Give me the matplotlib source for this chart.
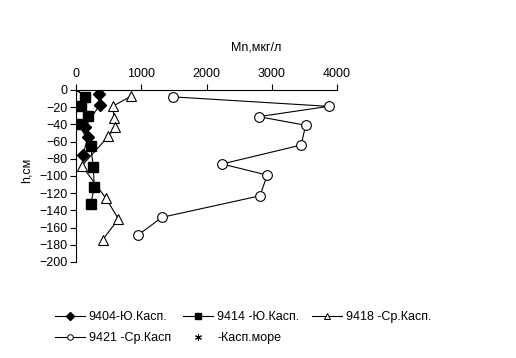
import matplotlib
matplotlib.use("Agg")
import matplotlib.pyplot as plt
from matplotlib.lines import Line2D

plt.rcParams["font.family"] = ["Liberation Sans", "DejaVu Sans"]
plt.rcParams["font.size"] = 9

# depth (cm) and Mn (mkg/l) for each station
h_9404 = [-5, -17, -43, -55, -75]
mn_9404 = [350, 365, 140, 180, 110]

h_9414 = [-8, -19, -30, -40, -65, -89, -113, -133]
mn_9414 = [140, 80, 190, 45, 225, 265, 280, 225]

h_9418 = [-7, -19, -32, -43, -54, -88, -126, -150, -174]
mn_9418 = [850, 560, 585, 600, 495, 90, 460, 650, 410]

h_9421 = [-8, -19, -31, -41, -64, -86, -99, -123, -148, -169]
mn_9421 = [1490, 3870, 2800, 3520, 3450, 2240, 2930, 2820, 1320, 945]

h_sea = [0]
mn_sea = [0]

fig = plt.figure(figsize=(5.16, 3.58), dpi=100)
ax = fig.add_axes([76 / 516, 1 - 262 / 358, (337 - 76) / 516, (262 - 90) / 358])

lw = 0.8
ax.plot(mn_9404, h_9404, color="black", lw=lw, marker="D", ms=6, mfc="black", mec="black")
ax.plot(mn_9414, h_9414, color="black", lw=lw, marker="s", ms=7, mfc="black", mec="black")
ax.plot(mn_9418, h_9418, color="black", lw=lw, marker="^", ms=7.5, mfc="white", mec="black", mew=0.8)
ax.plot(mn_9421, h_9421, color="black", lw=lw, marker="o", ms=7, mfc="white", mec="black", mew=0.8)
ax.plot(mn_sea, h_sea, color="black", lw=0, marker=(6, 2, 0), ms=7, mew=0.8)

ax.set_xlim(0, 4000)
ax.set_ylim(-200, 0)
ax.set_xticks([0, 1000, 2000, 3000, 4000])
ax.set_yticks(range(-200, 1, 20))
ax.xaxis.tick_top()
ax.spines["right"].set_visible(False)
ax.spines["bottom"].set_visible(False)
ax.spines["top"].set_linewidth(0.8)
ax.spines["left"].set_linewidth(0.8)
ax.tick_params(direction="out", length=4, width=0.8, pad=2)
ax.tick_params(axis="x", pad=3)

fig.text(256 / 516, 1 - 48 / 358, "Mn,мкг/л", ha="center", va="center")
fig.text(27 / 516, 1 - 170 / 358, "h,см", ha="center", va="center", rotation=90)

h404 = Line2D([], [], color="black", lw=lw, marker="D", ms=4, mfc="black")
h414 = Line2D([], [], color="black", lw=lw, marker="s", ms=5, mfc="black")
h418 = Line2D([], [], color="black", lw=lw, marker="^", ms=5, mfc="white", mew=0.7)
h421 = Line2D([], [], color="black", lw=lw, marker="o", ms=4, mfc="white", mew=0.7)
hsea = Line2D([], [], color="black", lw=0, marker=(6, 2, 0), ms=5, mew=0.7)
# legend fills column by column, so order gives two rows
handles = [h404, h421, h414, hsea, h418]
labels = ["9404-Ю.Касп.", "9421 -Ср.Касп", "9414 -Ю.Касп.", "-Касп.море", "9418 -Ср.Касп."]
fig.legend(handles, labels, loc="lower left", bbox_to_anchor=(50 / 516, 1 - 349 / 358),
           ncol=3, frameon=False, handlelength=2.4, handletextpad=0.3,
           columnspacing=1.0, labelspacing=0.7, borderaxespad=0)

fig.savefig("out.png", dpi=100)
